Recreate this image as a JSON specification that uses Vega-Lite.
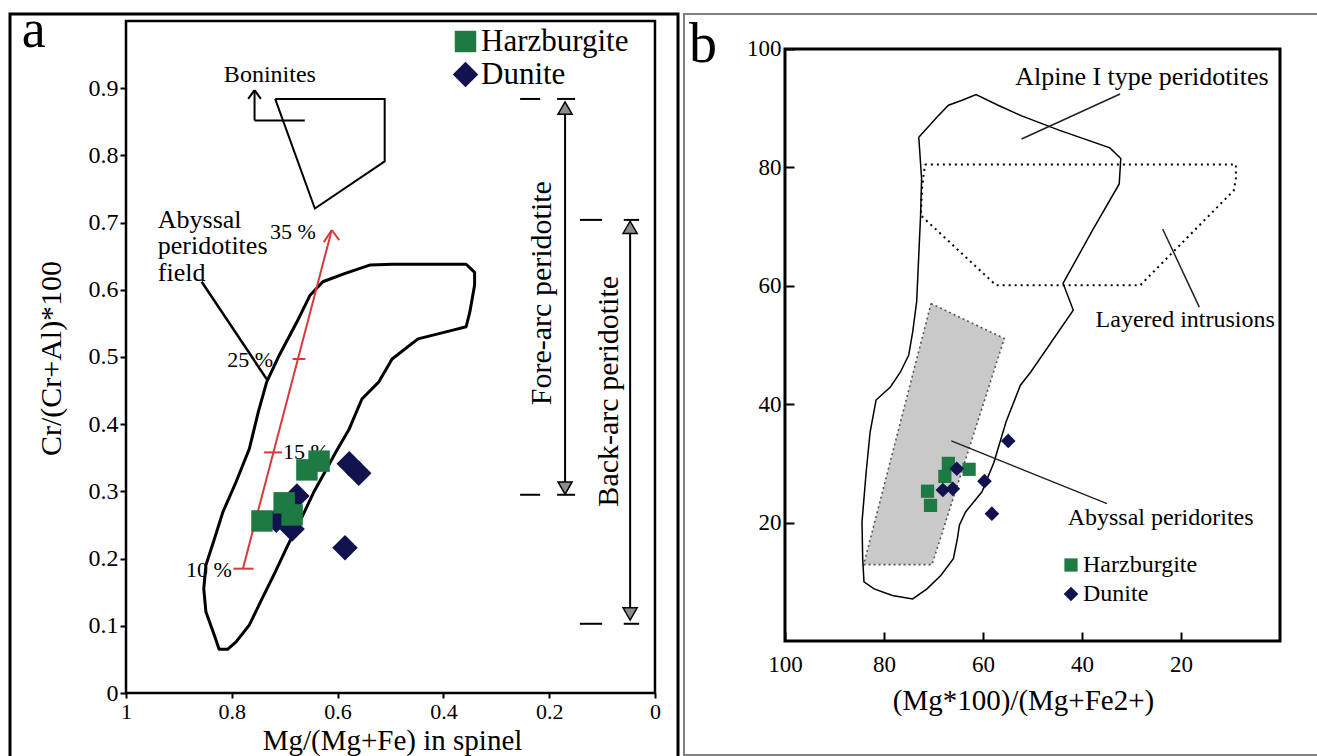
{
  "$schema": "https://vega.github.io/schema/vega-lite/v6.json",
  "padding": {"left": 8, "top": 2, "right": 0, "bottom": 0},
  "spacing": 3,
  "background": "white",
  "config": {
    "font": "Liberation Serif",
    "axis": {"labelColor": "black", "titleColor": "black", "labelFont": "Liberation Serif", "titleFont": "Liberation Serif", "titleFontWeight": "normal", "grid": false},
    "legend": {"labelFont": "Liberation Serif", "labelColor": "black"},
    "text": {"font": "Liberation Serif", "color": "black"}
  },
  "datasets": {
    "pts_a": [
      {"rock": "Dunite", "x": 0.578, "y": 0.341},
      {"rock": "Dunite", "x": 0.560, "y": 0.327},
      {"rock": "Dunite", "x": 0.586, "y": 0.216},
      {"rock": "Dunite", "x": 0.677, "y": 0.293},
      {"rock": "Dunite", "x": 0.716, "y": 0.257},
      {"rock": "Dunite", "x": 0.686, "y": 0.244},
      {"rock": "Harzburgite", "x": 0.743, "y": 0.256},
      {"rock": "Harzburgite", "x": 0.701, "y": 0.283},
      {"rock": "Harzburgite", "x": 0.686, "y": 0.265},
      {"rock": "Harzburgite", "x": 0.658, "y": 0.332},
      {"rock": "Harzburgite", "x": 0.635, "y": 0.345}
    ],
    "frame_a": [{"x": 1, "x2": 0, "y": 0, "y2": 1}],
    "frame_b": [{"x": 100, "x2": 0, "y": 0, "y2": 100}],
    "poly_a": [
      {"shape": "field", "i": 1, "x": 0.734, "y": 0.463},
      {"shape": "field", "i": 2, "x": 0.710, "y": 0.503},
      {"shape": "field", "i": 3, "x": 0.677, "y": 0.552},
      {"shape": "field", "i": 4, "x": 0.652, "y": 0.592},
      {"shape": "field", "i": 5, "x": 0.628, "y": 0.612},
      {"shape": "field", "i": 6, "x": 0.587, "y": 0.624},
      {"shape": "field", "i": 7, "x": 0.538, "y": 0.637},
      {"shape": "field", "i": 8, "x": 0.497, "y": 0.638},
      {"shape": "field", "i": 9, "x": 0.357, "y": 0.638},
      {"shape": "field", "i": 10, "x": 0.341, "y": 0.626},
      {"shape": "field", "i": 11, "x": 0.341, "y": 0.607},
      {"shape": "field", "i": 12, "x": 0.350, "y": 0.567},
      {"shape": "field", "i": 13, "x": 0.357, "y": 0.545},
      {"shape": "field", "i": 14, "x": 0.382, "y": 0.540},
      {"shape": "field", "i": 15, "x": 0.448, "y": 0.527},
      {"shape": "field", "i": 16, "x": 0.497, "y": 0.497},
      {"shape": "field", "i": 17, "x": 0.522, "y": 0.463},
      {"shape": "field", "i": 18, "x": 0.554, "y": 0.4375},
      {"shape": "field", "i": 19, "x": 0.578, "y": 0.393},
      {"shape": "field", "i": 20, "x": 0.603, "y": 0.359},
      {"shape": "field", "i": 21, "x": 0.624, "y": 0.329},
      {"shape": "field", "i": 22, "x": 0.645, "y": 0.299},
      {"shape": "field", "i": 23, "x": 0.669, "y": 0.259},
      {"shape": "field", "i": 24, "x": 0.694, "y": 0.220},
      {"shape": "field", "i": 25, "x": 0.718, "y": 0.180},
      {"shape": "field", "i": 26, "x": 0.743, "y": 0.140},
      {"shape": "field", "i": 27, "x": 0.767, "y": 0.101},
      {"shape": "field", "i": 28, "x": 0.792, "y": 0.076},
      {"shape": "field", "i": 29, "x": 0.808, "y": 0.065},
      {"shape": "field", "i": 30, "x": 0.824, "y": 0.065},
      {"shape": "field", "i": 31, "x": 0.833, "y": 0.086},
      {"shape": "field", "i": 32, "x": 0.849, "y": 0.121},
      {"shape": "field", "i": 33, "x": 0.853, "y": 0.155},
      {"shape": "field", "i": 34, "x": 0.849, "y": 0.190},
      {"shape": "field", "i": 35, "x": 0.833, "y": 0.229},
      {"shape": "field", "i": 36, "x": 0.817, "y": 0.269},
      {"shape": "field", "i": 37, "x": 0.792, "y": 0.314},
      {"shape": "field", "i": 38, "x": 0.767, "y": 0.363},
      {"shape": "field", "i": 39, "x": 0.750, "y": 0.418},
      {"shape": "field", "i": 40, "x": 0.734, "y": 0.463},
      {"shape": "bon", "i": 1, "x": 0.718, "y": 0.884},
      {"shape": "bon", "i": 2, "x": 0.511, "y": 0.884},
      {"shape": "bon", "i": 3, "x": 0.511, "y": 0.791},
      {"shape": "bon", "i": 4, "x": 0.643, "y": 0.721},
      {"shape": "bon", "i": 5, "x": 0.718, "y": 0.884}
    ],
    "seg_a": [
      {"kind": "ptr", "x": 0.857, "y": 0.612, "x2": 0.734, "y2": 0.467},
      {"kind": "thin", "x": 0.757, "y": 0.852, "x2": 0.662, "y2": 0.852},
      {"kind": "thin", "x": 0.757, "y": 0.852, "x2": 0.757, "y2": 0.897},
      {"kind": "thin", "x": 0.757, "y": 0.897, "x2": 0.769, "y2": 0.884},
      {"kind": "thin", "x": 0.757, "y": 0.897, "x2": 0.745, "y2": 0.884},
      {"kind": "red", "x": 0.779, "y": 0.185, "x2": 0.611, "y2": 0.689},
      {"kind": "red", "x": 0.797, "y": 0.185, "x2": 0.759, "y2": 0.185},
      {"kind": "red", "x": 0.739, "y": 0.358, "x2": 0.705, "y2": 0.358},
      {"kind": "red", "x": 0.685, "y": 0.497, "x2": 0.661, "y2": 0.497},
      {"kind": "red", "x": 0.611, "y": 0.689, "x2": 0.626, "y2": 0.671},
      {"kind": "red", "x": 0.611, "y": 0.689, "x2": 0.597, "y2": 0.674},
      {"kind": "thin", "x": 0.170, "y": 0.876, "x2": 0.170, "y2": 0.299},
      {"kind": "thin", "x": 0.047, "y": 0.699, "x2": 0.047, "y2": 0.112},
      {"kind": "thin", "x": 0.255, "y": 0.884, "x2": 0.217, "y2": 0.884},
      {"kind": "thin", "x": 0.185, "y": 0.884, "x2": 0.151, "y2": 0.884},
      {"kind": "thin", "x": 0.255, "y": 0.295, "x2": 0.217, "y2": 0.295},
      {"kind": "thin", "x": 0.185, "y": 0.295, "x2": 0.151, "y2": 0.295},
      {"kind": "thin", "x": 0.142, "y": 0.704, "x2": 0.100, "y2": 0.704},
      {"kind": "thin", "x": 0.059, "y": 0.704, "x2": 0.030, "y2": 0.704},
      {"kind": "thin", "x": 0.142, "y": 0.103, "x2": 0.100, "y2": 0.103},
      {"kind": "thin", "x": 0.059, "y": 0.103, "x2": 0.030, "y2": 0.103}
    ],
    "tri_a": [
      {"dir": "up", "x": 0.170, "y": 0.8705},
      {"dir": "down", "x": 0.170, "y": 0.305},
      {"dir": "up", "x": 0.047, "y": 0.693},
      {"dir": "down", "x": 0.047, "y": 0.1176}
    ],
    "labels_a": [
      {"kind": "panel", "text": "a", "x": 1.197, "y": 0.961},
      {"kind": "note", "text": "Boninites", "x": 0.815, "y": 0.920},
      {"kind": "field", "text": "Abyssal", "x": 0.940, "y": 0.704},
      {"kind": "field", "text": "peridotites", "x": 0.940, "y": 0.665},
      {"kind": "field", "text": "field", "x": 0.940, "y": 0.625},
      {"kind": "pctL", "text": "35 %", "x": 0.728, "y": 0.686},
      {"kind": "pctR", "text": "25 %", "x": 0.722, "y": 0.4955},
      {"kind": "pctL", "text": "15 %", "x": 0.703, "y": 0.359},
      {"kind": "pctR", "text": "10 %", "x": 0.800, "y": 0.183},
      {"kind": "vert", "text": "Fore-arc peridotite", "x": 0.2136, "y": 0.595},
      {"kind": "vert", "text": "Back-arc peridotite", "x": 0.0875, "y": 0.449}
    ],
    "pts_b": [
      {"rock": "Harzburgite", "x": 67.0, "y": 30.0},
      {"rock": "Harzburgite", "x": 67.7, "y": 27.8},
      {"rock": "Harzburgite", "x": 62.8, "y": 29.0},
      {"rock": "Harzburgite", "x": 71.2, "y": 25.3},
      {"rock": "Harzburgite", "x": 70.6, "y": 22.9},
      {"rock": "Dunite", "x": 68.1, "y": 25.5},
      {"rock": "Dunite", "x": 66.1, "y": 25.7},
      {"rock": "Dunite", "x": 65.3, "y": 29.1},
      {"rock": "Dunite", "x": 59.7, "y": 27.0},
      {"rock": "Dunite", "x": 54.9, "y": 33.8},
      {"rock": "Dunite", "x": 58.2, "y": 21.5}
    ],
    "poly_b": [
      {"shape": "alpine", "i": 1, "x": 72.97, "y": 85.1},
      {"shape": "alpine", "i": 2, "x": 69.27, "y": 88.5},
      {"shape": "alpine", "i": 3, "x": 66.97, "y": 90.5},
      {"shape": "alpine", "i": 4, "x": 64.34, "y": 91.3},
      {"shape": "alpine", "i": 5, "x": 61.39, "y": 92.3},
      {"shape": "alpine", "i": 6, "x": 56.95, "y": 90.5},
      {"shape": "alpine", "i": 7, "x": 52.18, "y": 88.7},
      {"shape": "alpine", "i": 8, "x": 44.65, "y": 86.3},
      {"shape": "alpine", "i": 9, "x": 34.36, "y": 83.3},
      {"shape": "alpine", "i": 10, "x": 32.16, "y": 81.5},
      {"shape": "alpine", "i": 11, "x": 32.48, "y": 77.2},
      {"shape": "alpine", "i": 12, "x": 38.06, "y": 69.1},
      {"shape": "alpine", "i": 13, "x": 43.82, "y": 60.4},
      {"shape": "alpine", "i": 14, "x": 41.76, "y": 55.9},
      {"shape": "alpine", "i": 15, "x": 50.38, "y": 45.4},
      {"shape": "alpine", "i": 16, "x": 52.44, "y": 43.2},
      {"shape": "alpine", "i": 17, "x": 55.35, "y": 37.0},
      {"shape": "alpine", "i": 18, "x": 57.78, "y": 30.2},
      {"shape": "alpine", "i": 19, "x": 60.2, "y": 25.2},
      {"shape": "alpine", "i": 20, "x": 63.52, "y": 21.8},
      {"shape": "alpine", "i": 21, "x": 64.75, "y": 19.6},
      {"shape": "alpine", "i": 22, "x": 65.17, "y": 17.3},
      {"shape": "alpine", "i": 23, "x": 65.98, "y": 13.9},
      {"shape": "alpine", "i": 24, "x": 68.48, "y": 11.1},
      {"shape": "alpine", "i": 25, "x": 71.31, "y": 8.8},
      {"shape": "alpine", "i": 26, "x": 74.2, "y": 7.1},
      {"shape": "alpine", "i": 27, "x": 78.3, "y": 7.7},
      {"shape": "alpine", "i": 28, "x": 82.0, "y": 8.8},
      {"shape": "alpine", "i": 29, "x": 84.04, "y": 10.0},
      {"shape": "alpine", "i": 30, "x": 84.3, "y": 13.9},
      {"shape": "alpine", "i": 31, "x": 84.44, "y": 20.1},
      {"shape": "alpine", "i": 32, "x": 83.6, "y": 28.5},
      {"shape": "alpine", "i": 33, "x": 82.8, "y": 35.3},
      {"shape": "alpine", "i": 34, "x": 81.6, "y": 40.7},
      {"shape": "alpine", "i": 35, "x": 78.7, "y": 42.9},
      {"shape": "alpine", "i": 36, "x": 76.7, "y": 45.4},
      {"shape": "alpine", "i": 37, "x": 75.0, "y": 48.3},
      {"shape": "alpine", "i": 38, "x": 74.2, "y": 52.2},
      {"shape": "alpine", "i": 39, "x": 73.4, "y": 57.3},
      {"shape": "alpine", "i": 40, "x": 72.6, "y": 72.0},
      {"shape": "alpine", "i": 41, "x": 72.4, "y": 78.1},
      {"shape": "alpine", "i": 42, "x": 72.97, "y": 85.1},
      {"shape": "layered", "i": 1, "x": 71.74, "y": 80.5},
      {"shape": "layered", "i": 2, "x": 8.91, "y": 80.5},
      {"shape": "layered", "i": 3, "x": 8.91, "y": 78.1},
      {"shape": "layered", "i": 4, "x": 9.33, "y": 76.1},
      {"shape": "layered", "i": 5, "x": 28.22, "y": 60.1},
      {"shape": "layered", "i": 6, "x": 57.37, "y": 60.1},
      {"shape": "layered", "i": 7, "x": 72.57, "y": 71.9},
      {"shape": "layered", "i": 8, "x": 72.3, "y": 76.5},
      {"shape": "layered", "i": 9, "x": 71.74, "y": 80.5},
      {"shape": "abyssal", "i": 1, "x": 70.5, "y": 57.0},
      {"shape": "abyssal", "i": 2, "x": 55.7, "y": 51.1},
      {"shape": "abyssal", "i": 3, "x": 70.3, "y": 12.9},
      {"shape": "abyssal", "i": 4, "x": 84.1, "y": 12.9},
      {"shape": "abyssal", "i": 5, "x": 70.5, "y": 57.0}
    ],
    "fill_b": [
      {"y": 12.9, "x": 84.1, "x2": 70.3},
      {"y": 51.1, "x": 72.3, "x2": 55.7},
      {"y": 57.0, "x": 70.5, "x2": 70.5}
    ],
    "seg_b": [
      {"x": 52.2, "y": 84.8, "x2": 32.3, "y2": 92.4},
      {"x": 23.7, "y": 69.6, "x2": 16.3, "y2": 56.4},
      {"x": 66.4, "y": 33.8, "x2": 34.95, "y2": 23.2}
    ],
    "labels_b": [
      {"kind": "panel", "text": "b", "x": 119.4, "y": 97.8},
      {"kind": "big", "text": "Alpine I type peridotites", "x": 53.5, "y": 95.3},
      {"kind": "mid", "text": "Layered intrusions", "x": 37.25, "y": 54.2},
      {"kind": "mid", "text": "Abyssal peridorites", "x": 42.9, "y": 20.7}
    ]
  },
  "hconcat": [
    {
      "width": 668,
      "height": 746,
      "view": {"stroke": "black", "strokeWidth": 3},
      "encoding": {
        "x": {
          "field": "x", "type": "quantitative",
          "scale": {"domain": [-0.0435, 1.2193], "reverse": true, "nice": false, "zero": false},
          "axis": {"values": [1, 0.8, 0.6, 0.4, 0.2, 0], "format": "~g", "offset": -67, "domain": false, "tickSize": 5, "tickWidth": 2, "tickColor": "black", "labelFontSize": 22, "labelPadding": 3, "labelOverlap": false, "labelFlush": false, "title": "Mg/(Mg+Fe) in spinel", "titleFontSize": 29, "titlePadding": 4, "titleX": 382}
        },
        "y": {
          "field": "y", "type": "quantitative",
          "scale": {"domain": [-0.0997, 1.0104], "nice": false, "zero": false},
          "axis": {"values": [0, 0.1, 0.2, 0.3, 0.4, 0.5, 0.6, 0.7, 0.8, 0.9], "format": "~g", "offset": -116, "domain": false, "tickSize": 6, "tickWidth": 2, "tickColor": "black", "labelFontSize": 24, "labelPadding": 2, "labelOverlap": false, "labelFlush": false, "title": "Cr/(Cr+Al)*100", "titleFontSize": 30, "titlePadding": 22, "titleY": 344}
        }
      },
      "layer": [
        {"data": {"name": "poly_a"}, "transform": [{"filter": "datum.shape === 'field'"}], "mark": {"type": "line", "stroke": "black", "strokeWidth": 3, "strokeJoin": "round"}, "encoding": {"order": {"field": "i", "type": "quantitative"}}},
        {"data": {"name": "poly_a"}, "transform": [{"filter": "datum.shape === 'bon'"}], "mark": {"type": "line", "stroke": "black", "strokeWidth": 2}, "encoding": {"order": {"field": "i", "type": "quantitative"}}},
        {"data": {"name": "seg_a"}, "transform": [{"filter": "datum.kind === 'ptr'"}], "mark": {"type": "rule", "stroke": "black", "strokeWidth": 2.5}, "encoding": {"x2": {"field": "x2"}, "y2": {"field": "y2"}}},
        {"data": {"name": "seg_a"}, "transform": [{"filter": "datum.kind === 'thin'"}], "mark": {"type": "rule", "stroke": "black", "strokeWidth": 2}, "encoding": {"x2": {"field": "x2"}, "y2": {"field": "y2"}}},
        {"data": {"name": "seg_a"}, "transform": [{"filter": "datum.kind === 'red'"}], "mark": {"type": "rule", "stroke": "#d63a3a", "strokeWidth": 2}, "encoding": {"x2": {"field": "x2"}, "y2": {"field": "y2"}}},
        {"data": {"name": "tri_a"}, "transform": [{"filter": "datum.dir === 'up'"}], "mark": {"type": "point", "shape": "triangle-up", "filled": true, "fill": "#8c8c8c", "stroke": "black", "strokeWidth": 1.5, "size": 200, "opacity": 1}},
        {"data": {"name": "tri_a"}, "transform": [{"filter": "datum.dir === 'down'"}], "mark": {"type": "point", "shape": "triangle-down", "filled": true, "fill": "#8c8c8c", "stroke": "black", "strokeWidth": 1.5, "size": 200, "opacity": 1}},
        {"data": {"name": "labels_a"}, "transform": [{"filter": "datum.kind === 'panel'"}], "mark": {"type": "text", "fontSize": 54, "align": "left", "baseline": "alphabetic"}, "encoding": {"text": {"field": "text"}}},
        {"data": {"name": "labels_a"}, "transform": [{"filter": "datum.kind === 'note'"}], "mark": {"type": "text", "fontSize": 24, "align": "left", "baseline": "middle"}, "encoding": {"text": {"field": "text"}}},
        {"data": {"name": "labels_a"}, "transform": [{"filter": "datum.kind === 'field'"}], "mark": {"type": "text", "fontSize": 26, "align": "left", "baseline": "middle"}, "encoding": {"text": {"field": "text"}}},
        {"data": {"name": "labels_a"}, "transform": [{"filter": "datum.kind === 'pctL'"}], "mark": {"type": "text", "fontSize": 22, "align": "left", "baseline": "middle"}, "encoding": {"text": {"field": "text"}}},
        {"data": {"name": "labels_a"}, "transform": [{"filter": "datum.kind === 'pctR'"}], "mark": {"type": "text", "fontSize": 22, "align": "right", "baseline": "middle"}, "encoding": {"text": {"field": "text"}}},
        {"data": {"name": "labels_a"}, "transform": [{"filter": "datum.kind === 'vert'"}], "mark": {"type": "text", "fontSize": 30, "align": "center", "baseline": "middle", "angle": 270}, "encoding": {"text": {"field": "text"}}},
        {
          "data": {"name": "pts_a"},
          "mark": {"type": "point", "filled": true, "opacity": 1},
          "encoding": {
            "color": {"field": "rock", "type": "nominal", "scale": {"domain": ["Harzburgite", "Dunite"], "range": ["#1d7a42", "#12124f"]}, "legend": {"orient": "none", "legendX": 440, "legendY": 12, "title": null, "labelFontSize": 31, "symbolSize": 450, "rowPadding": 1, "labelOffset": 0, "padding": 0}},
            "shape": {"field": "rock", "type": "nominal", "scale": {"domain": ["Harzburgite", "Dunite"], "range": ["square", "diamond"]}, "legend": {"orient": "none", "legendX": 440, "legendY": 12, "title": null, "labelFontSize": 31, "symbolSize": 450, "rowPadding": 1, "labelOffset": 0, "padding": 0}},
            "size": {"field": "rock", "type": "nominal", "scale": {"domain": ["Harzburgite", "Dunite"], "range": [460, 650]}, "legend": null}
          }
        },
        {"data": {"name": "frame_a"}, "mark": {"type": "rect", "filled": false, "stroke": "black", "strokeWidth": 2.5}, "encoding": {"x2": {"field": "x2"}, "y2": {"field": "y2"}}}
      ]
    },
    {
      "width": 634,
      "height": 741,
      "view": {"stroke": "#808080", "strokeWidth": 2},
      "encoding": {
        "x": {
          "field": "x", "type": "quantitative",
          "scale": {"domain": [-7.68, 120.40], "reverse": true, "nice": false, "zero": false},
          "axis": {"values": [100, 80, 60, 40, 20], "offset": -114, "domain": false, "tickSize": -9, "tickWidth": 2, "tickColor": "black", "labelFontSize": 23, "labelPadding": 21, "labelDx": 5, "labelOverlap": false, "labelFlush": false, "title": "(Mg*100)/(Mg+Fe2+)", "titleFontSize": 29, "titlePadding": 10, "titleX": 339}
        },
        "y": {
          "field": "y", "type": "quantitative",
          "scale": {"domain": [-19.26, 105.91], "nice": false, "zero": false},
          "axis": {"values": [100, 80, 60, 40, 20], "offset": -101, "domain": false, "tickSize": -9, "tickWidth": 2, "tickColor": "black", "labelFontSize": 23, "labelPadding": 13, "labelOverlap": false, "labelFlush": false, "title": null}
        }
      },
      "layer": [
        {"data": {"name": "fill_b"}, "mark": {"type": "area", "orient": "horizontal", "color": "#c9c9c9", "opacity": 1}, "encoding": {"x2": {"field": "x2"}}},
        {"data": {"name": "poly_b"}, "transform": [{"filter": "datum.shape === 'abyssal'"}], "mark": {"type": "line", "stroke": "#555555", "strokeWidth": 1.6, "strokeDash": [2, 3]}, "encoding": {"order": {"field": "i", "type": "quantitative"}}},
        {"data": {"name": "poly_b"}, "transform": [{"filter": "datum.shape === 'layered'"}], "mark": {"type": "line", "stroke": "black", "strokeWidth": 2, "strokeDash": [2, 4]}, "encoding": {"order": {"field": "i", "type": "quantitative"}}},
        {"data": {"name": "poly_b"}, "transform": [{"filter": "datum.shape === 'alpine'"}], "mark": {"type": "line", "stroke": "black", "strokeWidth": 1.5}, "encoding": {"order": {"field": "i", "type": "quantitative"}}},
        {"data": {"name": "seg_b"}, "mark": {"type": "rule", "stroke": "#222222", "strokeWidth": 1.5}, "encoding": {"x2": {"field": "x2"}, "y2": {"field": "y2"}}},
        {"data": {"name": "labels_b"}, "transform": [{"filter": "datum.kind === 'panel'"}], "mark": {"type": "text", "fontSize": 56, "align": "left", "baseline": "alphabetic"}, "encoding": {"text": {"field": "text"}}},
        {"data": {"name": "labels_b"}, "transform": [{"filter": "datum.kind === 'big'"}], "mark": {"type": "text", "fontSize": 26, "align": "left", "baseline": "middle"}, "encoding": {"text": {"field": "text"}}},
        {"data": {"name": "labels_b"}, "transform": [{"filter": "datum.kind === 'mid'"}], "mark": {"type": "text", "fontSize": 24, "align": "left", "baseline": "middle"}, "encoding": {"text": {"field": "text"}}},
        {
          "data": {"name": "pts_b"},
          "mark": {"type": "point", "filled": true, "opacity": 1},
          "encoding": {
            "color": {"field": "rock", "type": "nominal", "scale": {"domain": ["Harzburgite", "Dunite"], "range": ["#1d7a42", "#12124f"]}, "legend": {"orient": "none", "legendX": 375, "legendY": 539, "title": null, "labelFontSize": 24, "symbolSize": 210, "rowPadding": 5, "labelOffset": 0, "padding": 0}},
            "shape": {"field": "rock", "type": "nominal", "scale": {"domain": ["Harzburgite", "Dunite"], "range": ["square", "diamond"]}, "legend": {"orient": "none", "legendX": 375, "legendY": 539, "title": null, "labelFontSize": 24, "symbolSize": 210, "rowPadding": 5, "labelOffset": 0, "padding": 0}},
            "size": {"field": "rock", "type": "nominal", "scale": {"domain": ["Harzburgite", "Dunite"], "range": [175, 215]}, "legend": null}
          }
        },
        {"data": {"name": "frame_b"}, "mark": {"type": "rect", "filled": false, "stroke": "black", "strokeWidth": 3}, "encoding": {"x2": {"field": "x2"}, "y2": {"field": "y2"}}}
      ]
    }
  ],
  "resolve": {
    "scale": {"x": "independent", "y": "independent", "color": "independent", "shape": "independent", "size": "independent"},
    "legend": {"color": "independent", "shape": "independent"}
  }
}
